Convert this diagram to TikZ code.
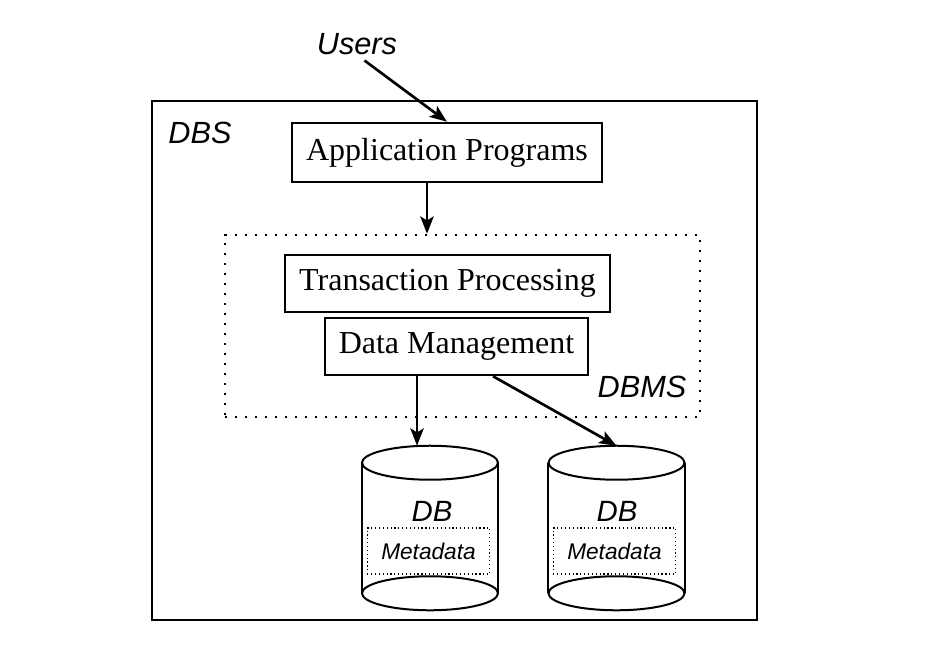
\documentclass[tikz,border=0pt]{standalone}
\usepackage{fontspec}
\setmainfont{Liberation Serif}
\newfontfamily\hel{Liberation Sans}
\usetikzlibrary{arrows.meta}
\begin{document}
\begin{tikzpicture}[x=0.75pt,y=-0.75pt,
  box/.style={draw,line width=1.9pt,inner sep=0pt,font=\fontsize{24}{28}\selectfont},
  lbl/.style={inner sep=0pt,font=\hel\itshape\fontsize{23}{27}\selectfont},
  arr/.style={line width=2pt,-{Stealth[length=13pt,width=10pt,inset=3pt]}},
  cylbody/.style={inner sep=0pt,minimum width=102pt,minimum height=123pt},
  cyl/.style={line width=1.5pt},
  meta/.style={draw,dotted,line width=0.9pt,inner sep=0pt,minimum width=92pt,minimum height=34.5pt},
  metatext/.style={inner sep=0pt,font=\hel\itshape\fontsize{17}{20}\selectfont},
  dbtext/.style={inner sep=0pt,font=\hel\itshape\fontsize{22}{26}\selectfont}]
\useasboundingbox (0,0) rectangle (945,668);
% DBS frame
\node[draw,line width=1.9pt,inner sep=0pt,minimum width=453.75pt,minimum height=389.25pt] (dbs) at (454.5,360.5) {};
\node[lbl] (dbslbl) at (200,133) {DBS};
% DBMS dotted frame
\node[draw,line width=1.8pt,dash pattern=on 1.6pt off 5.9pt,inner sep=0pt,minimum width=356.25pt,minimum height=136.5pt] (dbms) at (462.5,326) {};
\node[lbl] (dbmslbl) at (642,387) {DBMS};
% boxes
\node[lbl] (users) at (357,44) {Users};
\node[box,minimum width=232.5pt,minimum height=44.25pt] (ap) at (447,152.5) {Application Programs};
\node[box,minimum width=243.75pt,minimum height=42.75pt] (tp) at (447.5,283.5) {Transaction Processing};
\node[box,minimum width=197.25pt,minimum height=42.75pt] (dm) at (456.5,346.5) {Data Management};
% cylinders
\node[cylbody] (cyl1) at (430,528) {};
\node[cylbody] (cyl2) at (616.5,528) {};
\foreach \c in {cyl1,cyl2}{
  \draw[cyl] ([yshift=-12.75pt]\c.north) ellipse [x radius=68, y radius=17];
  \draw[cyl] ([yshift=12.75pt]\c.south) ellipse [x radius=68, y radius=17];
  \draw[cyl] ([yshift=-12.75pt]\c.north west) -- ([yshift=12.75pt]\c.south west);
  \draw[cyl] ([yshift=-12.75pt]\c.north east) -- ([yshift=12.75pt]\c.south east);
}
\node[dbtext] (db1) at (432,511) {DB};
\node[dbtext] (db2) at (617,511) {DB};
\node[meta] (m1) at (428.5,551) {};
\node[meta] (m2) at (614.5,551) {};
\node[metatext] (mt1) at (m1) {Metadata};
\node[metatext] (mt2) at (m2) {Metadata};
% arrows
\draw[arr,shorten <=7pt] (users.south) -- (ap.north);
\draw[arr] ([xshift=-15pt]ap.south) -- ([xshift=-15pt]ap.south |- dbms.north);
\coordinate (d1) at ([xshift=-29.6pt]dm.south);
\draw[arr] (d1) -- (d1 |- cyl1.north);
\coordinate (d2) at ([xshift=27.4pt]dm.south);
\draw[arr] (d2) -- (cyl2.north);
\end{tikzpicture}
\end{document}
